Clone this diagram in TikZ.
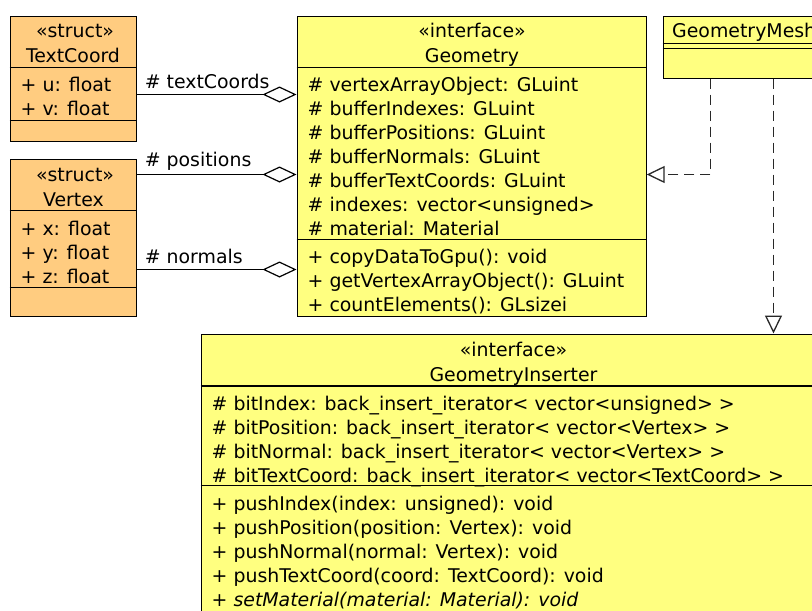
\documentclass[tikz,border=0pt]{standalone}
\usepackage{fontspec}
\setmainfont{DejaVu Sans}
\usetikzlibrary{arrows.meta}
\definecolor{structfill}{RGB}{255,204,128}
\definecolor{ifacefill}{RGB}{255,255,128}
\definecolor{dashcol}{RGB}{40,40,40}
\tikzset{
  x=1pt, y=-1pt,
  umlbox/.style={draw=black, line width=1.2pt, inner sep=0pt, anchor=north west},
  orangebox/.style={umlbox, fill=structfill},
  yellowbox/.style={umlbox, fill=ifacefill},
  txt/.style={inner sep=0pt, anchor=base west, font=\fontsize{18.9}{24}\selectfont},
  ctxt/.style={inner sep=0pt, anchor=base, font=\fontsize{18.9}{24}\selectfont},
  sep/.style={line width=1.2pt},
  aggr/.style={line width=1.2pt, -{Diamond[open, length=34pt, width=16pt, line width=1.2pt]}},
  real/.style={line width=1.5pt, dashcol, dash pattern=on 10pt off 6pt, -{Triangle[open, length=18pt, width=17pt, line width=1.3pt, sep=0pt, fill=white]}},
}
\begin{document}
\begin{tikzpicture}
\useasboundingbox (0,0) rectangle (812,611);
\clip (0,0) rectangle (812,611);

% ---------- TextCoord ----------
\node[orangebox, minimum width=126, minimum height=125.5] (tc) at (9.5,15.5) {};
\draw[sep] (9.5,67.5) -- (135.5,67.5);
\draw[sep] (9.5,120.5) -- (135.5,120.5);
\node[ctxt] (tcs) at (75,37.5) {«struct»};
\node[ctxt] (tcn) at (73,62.5) {TextCoord};
\node[txt] (tcu) at (20.5,91.5) {+ u: float};
\node[txt] (tcv) at (20.5,115.5) {+ v: float};

% ---------- Vertex ----------
\node[orangebox, minimum width=126, minimum height=157] (vx) at (9.5,158.5) {};
\draw[sep] (9.5,210.5) -- (135.5,210.5);
\draw[sep] (9.5,287.5) -- (135.5,287.5);
\node[ctxt] (vxs) at (75,181.5) {«struct»};
\node[ctxt] (vxn) at (73.5,206) {Vertex};
\node[txt] (vxx) at (20.5,235) {+ x: float};
\node[txt] (vxy) at (20.5,259) {+ y: float};
\node[txt] (vxz) at (20.5,283) {+ z: float};

% ---------- Geometry ----------
\node[yellowbox, minimum width=349, minimum height=300] (geo) at (296.5,15.5) {};
\draw[sep] (296.5,67.5) -- (645.5,67.5);
\draw[sep] (296.5,239.5) -- (645.5,239.5);
\node[ctxt] (geos) at (472,37.5) {«interface»};
\node[ctxt] (geon) at (472,62.5) {Geometry};
\node[txt] (ga1) at (307.5,91.5) {\# vertexArrayObject: GLuint};
\node[txt] (ga2) at (307.5,115.5) {\# bufferIndexes: GLuint};
\node[txt] (ga3) at (307.5,139.5) {\# bufferPositions: GLuint};
\node[txt] (ga4) at (307.5,163.5) {\# bufferNormals: GLuint};
\node[txt] (ga5) at (307.5,187.5) {\# bufferTextCoords: GLuint};
\node[txt] (ga6) at (307.5,211.5) {\# indexes: vector<unsigned>};
\node[txt] (ga7) at (307.5,235.5) {\# material: Material};
\node[txt] (gm1) at (307.5,263.3) {+ copyDataToGpu(): void};
\node[txt] (gm2) at (307.5,287.3) {+ getVertexArrayObject(): GLuint};
\node[txt] (gm3) at (307.5,311.3) {+ countElements(): GLsizei};

% ---------- GeometryMesh ----------
\node[yellowbox, minimum width=170, minimum height=62] (gmesh) at (662.5,15.5) {};
\draw[sep] (662.5,43.5) -- (830,43.5);
\draw[sep] (662.5,48.5) -- (830,48.5);
\node[txt] (gmeshn) at (672,37.7) {GeometryMesh};

% ---------- GeometryInserter ----------
\node[yellowbox, minimum width=640, minimum height=300] (gins) at (200.5,333.5) {};
\draw[sep] (200.5,386) -- (840,386);
\draw[sep] (200.5,485.5) -- (840,485.5);
\node[ctxt] (ginss) at (513.5,356.7) {«interface»};
\node[ctxt] (ginsn) at (513.5,381.7) {GeometryInserter};
\node[txt] (gi1) at (211.5,410) {\# bitIndex: back\_insert\_iterator< vector<unsigned> >};
\node[txt] (gi2) at (211.5,434) {\# bitPosition: back\_insert\_iterator< vector<Vertex> >};
\node[txt] (gi3) at (211.5,458) {\# bitNormal: back\_insert\_iterator< vector<Vertex> >};
\node[txt] (gi4) at (211.5,482) {\# bitTextCoord: back\_insert\_iterator< vector<TextCoord> >};
\node[txt] (gp1) at (211.5,510) {+ pushIndex(index: unsigned): void};
\node[txt] (gp2) at (211.5,534) {+ pushPosition(position: Vertex): void};
\node[txt] (gp3) at (211.5,558) {+ pushNormal(normal: Vertex): void};
\node[txt] (gp4) at (211.5,582) {+ pushTextCoord(coord: TextCoord): void};
\node[txt] (gp5) at (211.5,606) {+ \itshape setMaterial(material: Material): void};

% ---------- Aggregations ----------
\draw[aggr] ([yshift=-79pt]tc.north east) -- ([yshift=-79pt]geo.north west)
  node[pos=0, txt, anchor=base west, xshift=7.5pt, yshift=6pt] (l1) {\# textCoords};
\draw[aggr] ([yshift=-16pt]vx.north east) -- ([yshift=-159pt]geo.north west)
  node[pos=0, txt, anchor=base west, xshift=7.5pt, yshift=8.3pt] (l2) {\# positions};
\draw[aggr] ([yshift=-111pt]vx.north east) -- ([yshift=-254pt]geo.north west)
  node[pos=0, txt, anchor=base west, xshift=7.5pt, yshift=6.3pt] (l3) {\# normals};

% ---------- Realizations ----------
\coordinate (bend) at (710.5,174.5);
\draw[real] (gmesh.south -| bend) -- (bend) -- (bend -| geo.east);
\coordinate (drop) at (773.5,0);
\draw[real] (gmesh.south -| drop) -- (gins.north -| drop);
\end{tikzpicture}
\end{document}
